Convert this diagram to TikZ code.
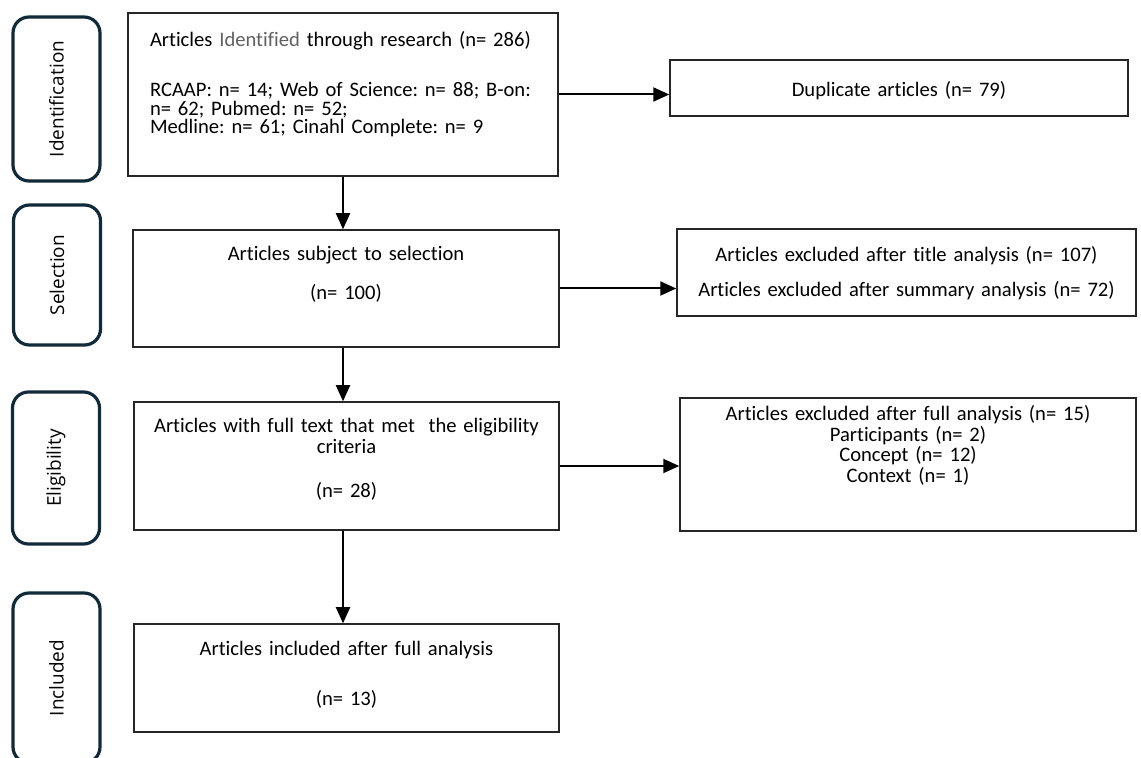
\documentclass[tikz,border=0pt]{standalone}
\usepackage{fontspec}
\setmainfont{Carlito}[Ligatures=NoCommon]
\newfontfamily\stagefont{Open Sans}
\usetikzlibrary{arrows.meta}
\definecolor{stageline}{RGB}{16,42,58}
\definecolor{idgray}{RGB}{96,96,96}

\begin{document}
\begin{tikzpicture}[x=0.5pt, y=-0.5pt,
  arr/.style={-{Triangle[length=8pt,width=7pt]}, line width=1pt},
  stage/.style={draw=stageline, line width=1.6pt, rounded corners=8pt, rotate=90, minimum height=43.5pt, font=\stagefont\fontsize{9.5}{11}\selectfont},
  box/.style={draw=black!85, line width=0.75pt, inner xsep=6pt, inner ysep=0pt, align=center, font=\fontsize{10.3}{10.25}\selectfont\frenchspacing}]
  \clip (0,0) rectangle (1141,758);

  \node [stage, minimum width=82pt] (stid) at (56.5,99) {Identification};
  \node [stage, minimum width=70pt] (stsel) at (57,275) {Selection};
  \node [stage, minimum width=76pt] (stel) at (56,468) {Eligibility};
  \node [stage, minimum width=85pt] (stinc) at (56.5,678) {Included};

  \node [box, align=left, inner xsep=11pt, text width=193pt, text height=17pt, text depth=64.5pt] (b1) at (343,94.5)
    {\mbox{Articles {\color{idgray}Identified} through research (n= 286)}\\[14.75pt]
     RCAAP: n= 14; Web of Science: n= 88; B-on:\\[-1pt]
     n= 62; Pubmed: n= 52;\\[-1pt]
     Medline: n= 61; Cinahl Complete: n= 9};
  \node [box, text width=201pt, text height=15.5pt, text depth=43pt] (b2) at (346,288.5)
    {Articles subject to selection\\[9.25pt] (n= 100)};
  \node [box, text width=200.5pt, text height=15.5pt, text depth=48.5pt] (b3) at (346.5,466)
    {Articles with full text that met~ the eligibility\\ criteria\\[11.75pt] (n= 28)};
  \node [box, text width=200.5pt, text height=16pt, text depth=38pt] (b4) at (346.5,678)
    {Articles included after full analysis\\[14.75pt] (n= 13)};

  \node [box, text width=217pt, text height=18.5pt, text depth=9.5pt] (dup) at (899,88)
    {Duplicate articles (n= 79)};
  \node [box, text width=217.5pt, text height=16.5pt, text depth=27pt] (ex1) at (906.5,272.5)
    {Articles excluded after title analysis (n= 107)\\[7.25pt]
     Articles excluded after summary analysis (n= 72)};
  \node [box, text width=216pt, text height=11.5pt, text depth=55pt] (ex2) at (908,464.5)
    {Articles excluded after full analysis (n= 15)\\
     Participants (n= 2)\\
     Concept (n= 12)\\
     Context (n= 1)};

  \draw [arr] (b1.south) -- (b1.south |- b2.north);
  \draw [arr] (b2.south -| b1.south) -- (b3.north -| b1.south);
  \draw [arr] (b3.south -| b1.south) -- (b4.north -| b1.south);
  \draw [arr] (b1.east) -- (b1.east -| dup.west);
  \draw [arr] (b2.east) -- (b2.east -| ex1.west);
  \draw [arr] (b3.east) -- (b3.east -| ex2.west);
\end{tikzpicture}
\end{document}
